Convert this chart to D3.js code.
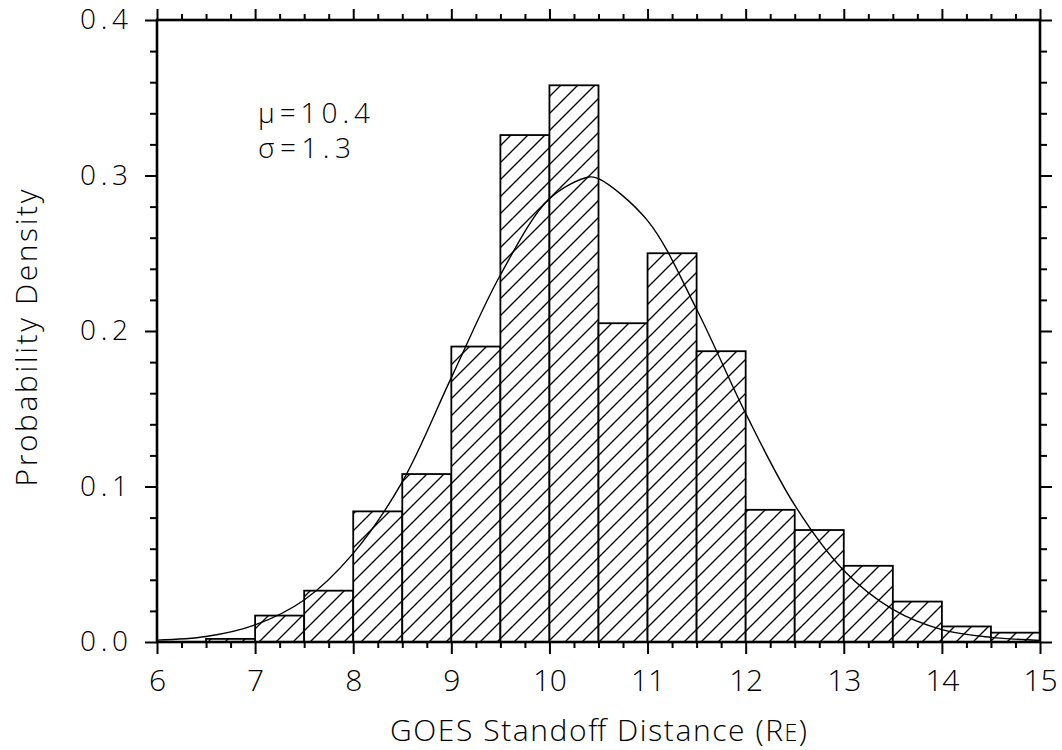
<!DOCTYPE html>
<html>
<head>
<meta charset="utf-8">
<script src="https://cdn.jsdelivr.net/npm/d3@7"></script>
<style>
  html, body { margin: 0; padding: 0; background: #fff; }
  svg { display: block; }
  text { font-family: "Open Sans", "DejaVu Sans", sans-serif; font-weight: 300; fill: #000; }
</style>
</head>
<body>
<svg id="chart" width="1062" height="750"></svg>
<script>
// ---- data ----
const binStarts = [6.0, 6.5, 7.0, 7.5, 8.0, 8.5, 9.0, 9.5, 10.0, 10.5, 11.0, 11.5, 12.0, 12.5, 13.0, 13.5, 14.0, 14.5];
const binDensity = [0.0, 0.002, 0.017, 0.033, 0.084, 0.108, 0.190, 0.326, 0.358, 0.205, 0.250, 0.187, 0.085, 0.072, 0.049, 0.026, 0.010, 0.006];
const binWidth = 0.5;

const curveX = [6.0, 6.5, 7.0, 7.5, 8.0, 8.5, 9.0, 9.5, 10.0, 10.4, 10.5, 11.0, 11.5, 12.0, 12.5, 13.0, 13.5, 14.0, 14.5, 15.0];
const curveY = [0.0012, 0.0035, 0.011, 0.027, 0.057, 0.103, 0.170, 0.236, 0.285, 0.299, 0.298, 0.271, 0.214, 0.147, 0.088, 0.046, 0.021, 0.008, 0.003, 0.001];

const xTicks = [6, 7, 8, 9, 10, 11, 12, 13, 14, 15];
const yTicks = [0.0, 0.1, 0.2, 0.3, 0.4];
const yTickLabels = ["0.0", "0.1", "0.2", "0.3", "0.4"];
const annotations = ["\u03bc=10.4", "\u03c3=1.3"];
const xTitle = "GOES Standoff Distance (R";
const xTitleSub = "E";
const xTitleEnd = ")";
const yTitle = "Probability Density";

// ---- layout ----
const svg = d3.select("#chart");
const L = 157, R = 1040, T = 20, B = 642;

const x = d3.scaleLinear().domain([6, 15]).range([L, R]);
const y = d3.scaleLinear().domain([0, 0.4]).range([B, T]);

// hatch pattern
const defs = svg.append("defs");
const pat = defs.append("pattern")
  .attr("id", "hatch")
  .attr("patternUnits", "userSpaceOnUse")
  .attr("width", 17).attr("height", 17);
pat.append("rect").attr("width", 17).attr("height", 17).attr("fill", "#fff");
pat.append("path")
  .attr("d", "M0,17 L17,0 M-4,4 L4,-4 M13,21 L21,13")
  .attr("stroke", "#000").attr("stroke-width", 1.35);

// bars
const bars = binStarts.map((s, i) => ({ x0: s, x1: s + binWidth, v: binDensity[i] }));
svg.append("g").selectAll("rect")
  .data(bars.filter(d => d.v > 0))
  .join("rect")
  .attr("x", d => x(d.x0))
  .attr("y", d => y(d.v))
  .attr("width", d => x(d.x1) - x(d.x0))
  .attr("height", d => y(0) - y(d.v))
  .attr("fill", "url(#hatch)")
  .attr("stroke", "#000")
  .attr("stroke-width", 1.8);

// fitted curve
const line = d3.line()
  .x((d, i) => x(curveX[i]))
  .y(d => y(d))
  .curve(d3.curveCatmullRom.alpha(0.5));
svg.append("path")
  .attr("d", line(curveY))
  .attr("fill", "none")
  .attr("stroke", "#000")
  .attr("stroke-width", 1.4);

// axes: major and minor ticks on all four sides, outward
function styleAxis(g) {
  g.select(".domain").remove();
  g.selectAll(".tick line").attr("stroke", "#000").attr("stroke-width", 2);
}
const xMinor = d3.range(6, 15.001, 0.25).filter(v => Math.abs(v - Math.round(v)) > 1e-6);
const yMinor = d3.range(0, 0.4001, 0.02).filter(v => Math.abs(v * 10 - Math.round(v * 10)) > 1e-6);

// bottom
const gB = svg.append("g").attr("transform", `translate(0,${B})`)
  .call(d3.axisBottom(x).tickValues(xTicks).tickSize(12).tickPadding(16).tickFormat(d3.format("d")));
styleAxis(gB);
gB.selectAll(".tick text")
  .style("font-size", "30px")
  .attr("dy", "0.71em")
  .each(function(d) { if (String(d).length > 1) d3.select(this).attr("textLength", 34).attr("lengthAdjust", "spacing"); });
const gBm = svg.append("g").attr("transform", `translate(0,${B})`)
  .call(d3.axisBottom(x).tickValues(xMinor).tickSize(6).tickFormat(""));
styleAxis(gBm);

// top
const gT = svg.append("g").attr("transform", `translate(0,${T})`)
  .call(d3.axisTop(x).tickValues(xTicks).tickSize(11).tickFormat(""));
styleAxis(gT);
const gTm = svg.append("g").attr("transform", `translate(0,${T})`)
  .call(d3.axisTop(x).tickValues(xMinor).tickSize(6).tickFormat(""));
styleAxis(gTm);

// left
const gL = svg.append("g").attr("transform", `translate(${L},0)`)
  .call(d3.axisLeft(y).tickValues(yTicks).tickSize(12).tickPadding(17)
    .tickFormat((d, i) => yTickLabels[i]));
styleAxis(gL);
gL.selectAll(".tick text")
  .style("font-size", "28px")
  .attr("textLength", 48).attr("lengthAdjust", "spacing");
const gLm = svg.append("g").attr("transform", `translate(${L},0)`)
  .call(d3.axisLeft(y).tickValues(yMinor).tickSize(7).tickFormat(""));
styleAxis(gLm);

// right
const gR = svg.append("g").attr("transform", `translate(${R},0)`)
  .call(d3.axisRight(y).tickValues(yTicks).tickSize(12).tickFormat(""));
styleAxis(gR);
const gRm = svg.append("g").attr("transform", `translate(${R},0)`)
  .call(d3.axisRight(y).tickValues(yMinor).tickSize(7).tickFormat(""));
styleAxis(gRm);

// frame
svg.append("rect")
  .attr("x", L).attr("y", T)
  .attr("width", R - L).attr("height", B - T)
  .attr("fill", "none").attr("stroke", "#000").attr("stroke-width", 2.6);

// annotations
svg.append("text").attr("x", 258).attr("y", 123)
  .style("font-size", "28px")
  .attr("textLength", 112).attr("lengthAdjust", "spacing")
  .text(annotations[0]);
svg.append("text").attr("x", 258).attr("y", 158)
  .style("font-size", "28px")
  .attr("textLength", 93).attr("lengthAdjust", "spacing")
  .text(annotations[1]);

// axis titles
const xt = svg.append("text")
  .attr("x", (L + R) / 2).attr("y", 741)
  .attr("text-anchor", "middle")
  .style("font-size", "30px")
  .attr("textLength", 417).attr("lengthAdjust", "spacing");
xt.append("tspan").text(xTitle);
xt.append("tspan").style("font-size", "23px").text(xTitleSub);
xt.append("tspan").text(xTitleEnd);

svg.append("text")
  .attr("transform", `translate(37,${338}) rotate(-90)`)
  .attr("text-anchor", "middle")
  .style("font-size", "30px")
  .attr("textLength", 297).attr("lengthAdjust", "spacing")
  .text(yTitle);
</script>
</body>
</html>
